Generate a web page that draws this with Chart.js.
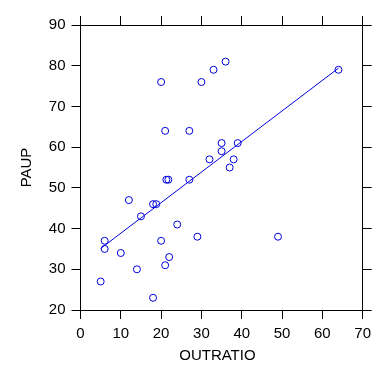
<!DOCTYPE html>
<html>
<head>
<meta charset="utf-8">
<script src="https://cdn.jsdelivr.net/npm/chart.js@4"></script>
<style>
    html, body { margin: 0; padding: 0; background: #fff; }
    #wrap { width: 377px; height: 384px; }
</style>
</head>
<body>
<div id="wrap"><canvas id="chart" width="377" height="384"></canvas></div>
<script>
// valori
var outratio = [20, 30, 33, 36, 21, 27, 35, 35, 32, 37, 64, 39, 38, 21.3, 21.8, 27,
                12, 18, 18.8, 15, 24, 6, 20, 29, 6, 10, 22, 21, 14, 5, 18, 49];
var paup     = [76, 76, 79, 81, 64, 64, 61, 59, 57, 55, 79, 61, 57, 52, 52, 52,
                47, 46, 46, 43, 41, 37, 37, 38, 35, 34, 33, 31, 30, 27, 23, 38];

// retta di regressione (estremi)
var fitX = [5, 64];
var fitY = [35.1, 79.4];

var xTicks = [0, 10, 20, 30, 40, 50, 60, 70];
var yTicks = [20, 30, 40, 50, 60, 70, 80, 90];

var BLUE = '#0000dd';
var INK = '#000';
var FONT = { family: "'Liberation Sans', Arial, sans-serif", size: 15 };

var points = outratio.map(function(x, i) { return { x: x, y: paup[i] }; });
var fitLine = fitX.map(function(x, i) { return { x: x, y: fitY[i] }; });

function fixSize(prop, val) {
    return function(scale) { scale[prop] = val; };
}

function axisBase(min, max, ticks) {
    return {
        type: 'linear',
        min: min,
        max: max,
        afterBuildTicks: function(scale) {
            scale.ticks = ticks.map(function(v) { return { value: v }; });
        },
        border: { display: true, color: INK, width: 1 },
        grid: { drawOnChartArea: false, drawTicks: true, tickLength: 9, color: INK, lineWidth: 1 },
        ticks: { color: INK, font: FONT }
    };
}

var xMain = axisBase(0, 70, xTicks);
xMain.position = 'bottom';
xMain.ticks.padding = 6;
xMain.ticks.maxRotation = 0;
// spazi finali: spostano leggermente il titolo a sinistra come nell'originale
xMain.title = { display: true, text: 'OUTRATIO  ', color: INK, font: FONT, padding: { top: 19, bottom: 19 } };
xMain.afterFit = fixSize('height', 74);

var yMain = axisBase(20, 90, yTicks);
yMain.position = 'left';
yMain.ticks.padding = 6;
yMain.title = { display: true, text: 'PAUP', color: INK, font: FONT, padding: { top: 18, bottom: 0 } };
yMain.afterFit = fixSize('width', 80.5);

var xTop = axisBase(0, 70, xTicks);
xTop.position = 'top';
xTop.ticks.display = false;
xTop.afterFit = fixSize('height', 25);

var yRight = axisBase(20, 90, yTicks);
yRight.position = 'right';
yRight.ticks.display = false;
yRight.afterFit = fixSize('width', 11.5);

new Chart(document.getElementById('chart'), {
    type: 'scatter',
    data: {
        datasets: [
            {
                label: 'PAUP',
                data: points,
                pointStyle: 'circle',
                pointRadius: 3.5,
                pointHoverRadius: 3.5,
                pointBorderWidth: 1,
                borderColor: BLUE,
                backgroundColor: 'rgba(0,0,0,0)'
            },
            {
                label: 'fit',
                type: 'line',
                data: fitLine,
                showLine: true,
                borderColor: BLUE,
                borderWidth: 1,
                pointRadius: 0,
                fill: false
            }
        ]
    },
    options: {
        responsive: false,
        animation: false,
        layout: { padding: 0 },
        plugins: {
            legend: { display: false },
            tooltip: { enabled: false }
        },
        scales: {
            x: xMain,
            y: yMain,
            x2: xTop,
            y2: yRight
        }
    }
});
</script>
</body>
</html>
